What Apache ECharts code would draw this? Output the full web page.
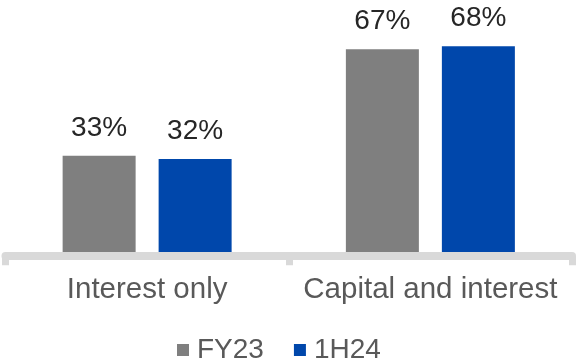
<!DOCTYPE html>
<html>
<head>
<meta charset="utf-8">
<style>
  html, body { margin: 0; padding: 0; background: #ffffff; }
  #chart { width: 577px; height: 360px; }
</style>
<script src="https://cdn.jsdelivr.net/npm/echarts@6/dist/echarts.min.js"></script>
</head>
<body>
<div id="chart"></div>
<script>
// Loan repayment type mix, share of portfolio (%)
const categories = ['Interest only', 'Capital and interest'];
const seriesNames = ['FY23', '1H24'];
const fy23Values = [33, 67];
const h124Values = [32, 68];

const FONT = '"Liberation Sans", Arial, sans-serif';

const chart = echarts.init(document.getElementById('chart'), null, { renderer: 'canvas' });

const valueLabel = {
  show: true,
  position: 'top',
  distance: 14,
  formatter: p => p.value + '%',
  fontFamily: FONT,
  fontSize: 28,
  color: '#262626'
};

chart.setOption({
  animation: false,
  backgroundColor: '#ffffff',
  grid: { left: 5.5, right: 5, top: 8.6, bottom: 100.8, containLabel: false },
  legend: {
    data: seriesNames,
    left: 172,
    top: 331,
    icon: 'rect',
    itemWidth: 12,
    itemHeight: 12,
    itemGap: 30,
    textStyle: { fontFamily: FONT, fontSize: 28, color: '#595959', padding: [0, 0, 0, 3] }
  },
  xAxis: {
    type: 'category',
    data: categories,
    z: 10,
    offset: -3,
    axisLine: { show: true, lineStyle: { color: '#d9d9d9', width: 8 } },
    axisTick: { show: true, interval: 0, length: 9, lineStyle: { color: '#d9d9d9', width: 7 } },
    axisLabel: { interval: 0, fontFamily: FONT, fontSize: 29.5, color: '#595959', margin: 19 }
  },
  yAxis: {
    type: 'value',
    min: 0,
    max: 80,
    show: false,
    splitLine: { show: false }
  },
  series: [
    {
      name: seriesNames[0],
      type: 'bar',
      data: fy23Values,
      barWidth: 73,
      barGap: '31.5%',
      itemStyle: { color: '#7f7f7f' },
      label: valueLabel
    },
    {
      name: seriesNames[1],
      type: 'bar',
      data: h124Values,
      barWidth: 73,
      itemStyle: { color: '#0047ab' },
      label: valueLabel
    }
  ]
});
</script>
</body>
</html>
